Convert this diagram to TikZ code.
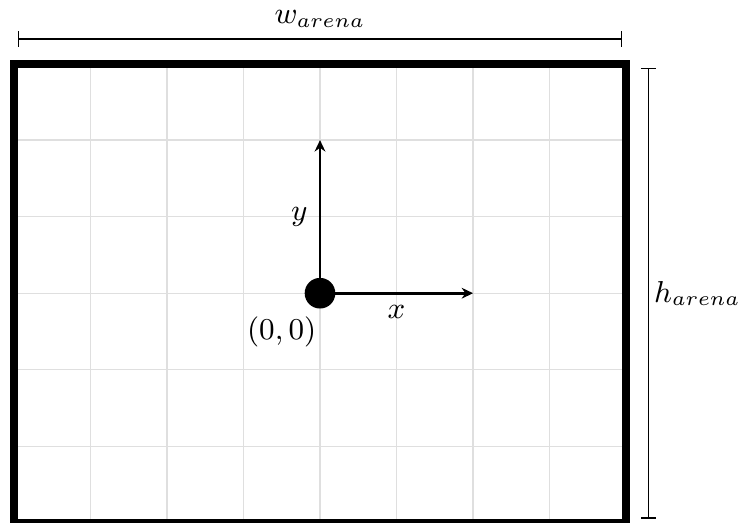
\documentclass[tikz,border=0pt]{standalone}
\usepackage{tikz}
\usetikzlibrary{arrows.meta}

\begin{document}
\begin{tikzpicture}[x=0.8cm, y=0.8cm, font=\small,
    gridline/.style={gray!25, line width=0.4pt},
    wall/.style={line width=2.4pt},
    axis/.style={thick, -{Stealth[length=3.4pt, width=3.2pt]}},
    dimline/.style={{Bar[width=4.5pt]}-{Bar[width=4.5pt]}, shorten <=1.3pt, shorten >=1.3pt},
    dot/.style={circle, fill=black, minimum size=0.32cm, inner sep=0pt}]
  \useasboundingbox (-4.18,-2.99) rectangle (5.46,3.83);
  % arena with its grid
  \draw[gridline, step=0.8cm] (-4,-3) grid (4,3);
  \draw[wall] (-4,-3) rectangle (4,3);
  % frame of reference
  \node[dot] (origin) at (0,0) {};
  \coordinate (xend) at (2,0);
  \coordinate (yend) at (0,2);
  \draw[axis] (origin.center) -- node[below] {$x$} (xend);
  \draw[axis] (origin.center) -- node[left] {$y$} (yend);
  \node (olabel) at (-0.5,-0.5) {$(0,0)$};
  % sizes
  \coordinate (wleft) at (-4,3.32);
  \coordinate (wright) at (4,3.32);
  \coordinate (htop) at (4.29,3);
  \coordinate (hbottom) at (4.29,-3);
  \draw[dimline] (wleft) -- node[above] {$w_{arena}$} (wright);
  \draw[dimline] (htop) -- node[right, inner sep=1.5pt] {$h_{arena}$} (hbottom);
\end{tikzpicture}
\end{document}
